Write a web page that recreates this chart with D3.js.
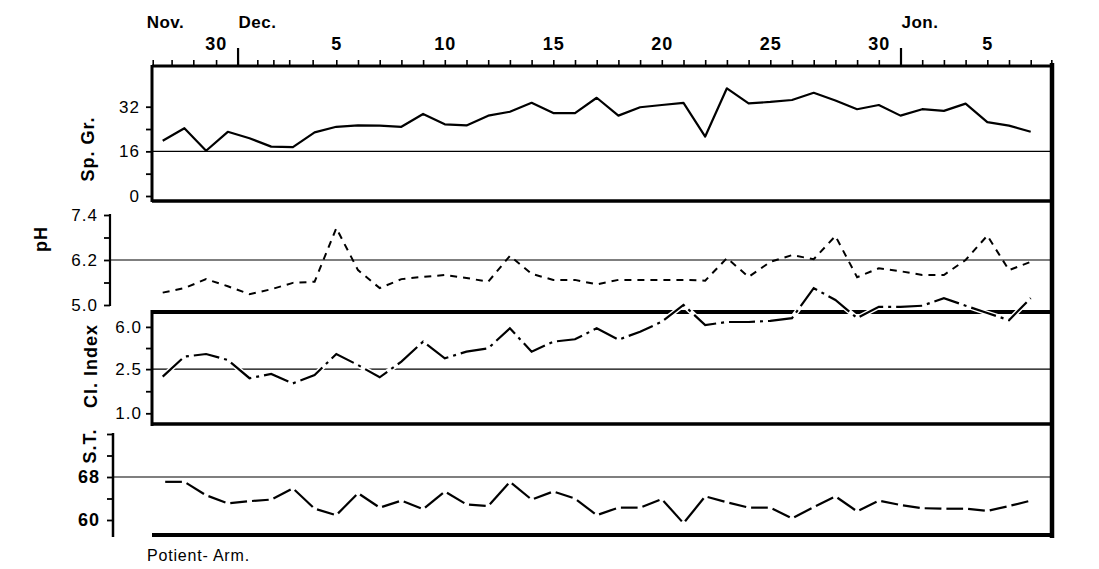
<!DOCTYPE html>
<html><head><meta charset="utf-8">
<script src="https://cdn.jsdelivr.net/npm/d3@7"></script>
<style>
body{margin:0;background:#fff}
svg{display:block}
text{font-family:"Liberation Sans",Arial,Helvetica,sans-serif;fill:#000}
</style>
</head><body>
<svg id="c" width="1099" height="569"></svg>
<script>
// ---- data (one reading per day, Nov 27 .. Jan 7) ----
const spGr = [19.8,24.3,16.2,23.0,20.7,17.7,17.5,22.8,24.8,25.3,25.2,24.8,29.4,25.7,25.3,28.8,30.2,33.4,29.7,29.7,35.2,
              28.8,31.8,32.6,33.4,21.3,38.6,33.2,33.7,34.4,37.0,34.2,31.1,32.6,28.8,31.1,30.5,33.1,26.5,25.2,23.0];
const pH = [5.33,5.45,5.69,5.5,5.29,5.42,5.59,5.62,7.05,5.93,5.45,5.69,5.75,5.8,5.72,5.62,6.31,5.83,5.67,5.67,5.55,
            5.67,5.67,5.67,5.67,5.65,6.25,5.75,6.15,6.33,6.22,6.84,5.74,5.98,5.9,5.8,5.8,6.2,6.85,5.93,6.15];
const clIndex = [2.14,3.24,3.42,3.02,2.07,2.26,1.86,2.21,3.42,2.72,2.11,2.92,4.42,3.13,3.59,3.85,5.83,3.59,4.42,4.64,5.83,
                 4.6,5.43,6.68,9.46,6.24,6.64,6.64,6.8,7.2,13.4,10.5,7.2,9.1,9.1,9.3,10.9,9.3,8.0,6.9,10.9];
const st = [67.1,67.1,64.6,63.1,63.5,63.8,65.9,62.1,60.9,65.0,62.3,63.6,62.0,65.3,62.9,62.6,67.1,63.8,65.3,64.0,60.9,
            62.3,62.3,63.9,59.4,64.4,63.3,62.3,62.3,60.3,62.4,64.4,61.6,63.6,62.8,62.2,62.1,62.1,61.7,62.6,63.6];

// ---- axis ticks / labels ----
const tickDays = [2.45,8,13,18,23,28,33,38];
const tickLabels = ["30","5","10","15","20","25","30","5"];
const monthDays = [3.45,34];
const monthLabels = ["Dec.","Jon."];
const firstMonthLabel = "Nov.";
const minorTickDays = [-0.46,0.41,1.41,2.46,3.46,4.36,5.1,5.83,6.91].concat(d3.range(8,41)).concat([40.95]);

const spTicks = [0,8,16,24,32], spLabels = [0,16,32], spRef = 16;
const phTicks = [5.0,5.6,6.2,6.8,7.4], phLabels = [5.0,6.2,7.4], phRef = 6.2;
const clTicks = [1.0,1.58,2.5,3.87,6.0], clLabels = [1.0,2.5,6.0], clRef = 2.5;
const stTicks = [60,64,68,72,76], stLabels = [60,68], stRef = 68;

const titles = {sp:"Sp. Gr.", ph:"pH", cl:"Cl. Index", st:"S.T."};
const footnote = "Potient- Arm.";

// ---- layout ----
const svg = d3.select("#c");
const L = 152, R = 1052, AXY = 66;
const P1B = 201, P3T = 312, P3B = 424, P4B = 535;

const days = d3.range(spGr.length);
const x = d3.scaleLinear().domain([0,40]).range([162.7,1030.7]);
const ySp = d3.scaleLinear().domain([0,32]).range([196,106.7]);
const yPh = d3.scaleLinear().domain([5.0,7.4]).range([305,215]);
const yCl = d3.scaleLog().domain([1,6]).range([413.3,326.9]);
const ySt = d3.scaleLinear().domain([60,68]).range([520,477]);

function hline(y,x1,x2,w){svg.append("line").attr("x1",x1).attr("x2",x2).attr("y1",y).attr("y2",y).attr("stroke","#000").attr("stroke-width",w);}
function vline(xx,y1,y2,w){svg.append("line").attr("x1",xx).attr("x2",xx).attr("y1",y1).attr("y2",y2).attr("stroke","#000").attr("stroke-width",w);}

// ---- top date axis ----
const gTop = svg.append("g").attr("transform",`translate(0,${AXY})`);
gTop.call(d3.axisTop(x).tickValues(minorTickDays).tickSize(6).tickSizeOuter(0).tickFormat(""));
gTop.call(g=>g.select(".domain").remove());
gTop.selectAll(".tick line").attr("stroke-width",1.6);
const gMon = svg.append("g").attr("transform",`translate(0,${AXY})`);
gMon.call(d3.axisTop(x).tickValues(monthDays).tickSize(18).tickSizeOuter(0).tickFormat(""));
gMon.call(g=>g.select(".domain").remove());
gMon.selectAll(".tick line").attr("stroke-width",2.2);
const gLab = svg.append("g").attr("transform",`translate(0,${AXY})`);
gLab.call(d3.axisTop(x).tickValues(tickDays).tickSize(0).tickPadding(16).tickFormat((d,i)=>tickLabels[i]));
gLab.call(g=>g.select(".domain").remove());
gLab.selectAll("text").attr("font-size",18).attr("font-weight","bold").attr("letter-spacing",1).attr("font-family","Liberation Sans, Arial, sans-serif");
svg.append("text").attr("x",x(0)-16).attr("y",28).attr("font-size",17).attr("font-weight","bold").attr("letter-spacing",0.5).text(firstMonthLabel);
monthDays.forEach((d,i)=>{
  svg.append("text").attr("x",x(d)+1).attr("y",28).attr("font-size",17).attr("font-weight","bold").attr("letter-spacing",0.5).text(monthLabels[i]);
});
hline(AXY,L,R,3);

// ---- frames ----
vline(L,AXY-1,P1B+1,3);
hline(P1B,L,R,3.5);
hline(P3T,L,R,4);
vline(L,P3T-2,P3B+2,3);
hline(P3B,L,R,3.5);
hline(P4B,L,R,4);
vline(R,AXY-3,P4B+3,4.5);

// ---- reference lines ----
hline(ySp(spRef),L,R,1.2);
hline(yPh(phRef),110,R,1.2);
hline(yCl(clRef),L,R,1.2);
hline(ySt(stRef),113,R,1.2);

// ---- y axes ----
function leftAxis(scale,ticks,labels,xpos,fmt,fs,fw,pad){
  const g = svg.append("g").attr("transform",`translate(${xpos},0)`);
  g.call(d3.axisLeft(scale).tickValues(ticks).tickSize(6).tickSizeOuter(0).tickPadding(pad)
     .tickFormat(d=>labels.some(v=>Math.abs(v-d)<1e-9)?fmt(d):""));
  g.select(".domain").remove();
  g.selectAll(".tick line").attr("stroke-width",1.8);
  g.selectAll("text").attr("font-size",fs).attr("font-weight",fw).attr("letter-spacing",1)
    .attr("font-family","Liberation Sans, Arial, sans-serif");
  return g;
}
leftAxis(ySp,spTicks,spLabels,L,d3.format("d"),17,"normal",6);
leftAxis(yCl,clTicks,clLabels,L,d3.format(".1f"),17,"normal",4);
leftAxis(yPh,phTicks,phLabels,110,d3.format(".1f"),17,"normal",6);
vline(110,yPh(7.4)-1,yPh(5.0)+1,2.2);
leftAxis(ySt,stTicks,stLabels,113,d3.format("d"),18,"bold",7);
vline(113,ySt(76)-1,P4B+2,2.5);

// ---- axis titles ----
function vtitle(t,xx,yy,fs){
  svg.append("text").attr("transform",`translate(${xx},${yy}) rotate(-90)`).attr("text-anchor","middle")
    .attr("font-size",fs).attr("font-weight","bold").attr("letter-spacing",1).text(t);
}
vtitle(titles.sp,94,149,18);
vtitle(titles.ph,47,239,18);
vtitle(titles.cl,97,366,18);
vtitle(titles.st,96,446,18);
svg.append("text").attr("x",147).attr("y",561).attr("font-size",16).attr("letter-spacing",0.8).text(footnote);

// ---- series ----
const lineSp = d3.line().x(i=>x(i)).y(i=>ySp(spGr[i]));
svg.append("path").attr("d",lineSp(days)).attr("fill","none").attr("stroke","#000").attr("stroke-width",2.2).attr("stroke-linejoin","round");

const linePh = d3.line().x(i=>x(i)).y(i=>yPh(pH[i]));
svg.append("path").attr("d",linePh(days)).attr("fill","none").attr("stroke","#000").attr("stroke-width",2).attr("stroke-dasharray","7,6");

const lineCl = d3.line().x(i=>x(i)).y(i=>yCl(clIndex[i]));
svg.append("path").attr("d",lineCl(days)).attr("fill","none").attr("stroke","#fff").attr("stroke-width",5);
svg.append("path").attr("d",lineCl(days)).attr("fill","none").attr("stroke","#000").attr("stroke-width",2.2).attr("stroke-dasharray","26,5,3,5");

// S.T.: separate strokes with small breaks at each reading
const gap = 2.5;
svg.append("g").selectAll("line").data(days.slice(0,-1)).join("line")
  .each(function(i){
    const x1=x(i), y1=ySt(st[i]), x2=x(i+1), y2=ySt(st[i+1]);
    const len=Math.hypot(x2-x1,y2-y1), ux=(x2-x1)/len, uy=(y2-y1)/len;
    d3.select(this).attr("x1",x1+ux*gap).attr("y1",y1+uy*gap).attr("x2",x2-ux*gap).attr("y2",y2-uy*gap);
  })
  .attr("stroke","#000").attr("stroke-width",2.2);
</script>
</body></html>
